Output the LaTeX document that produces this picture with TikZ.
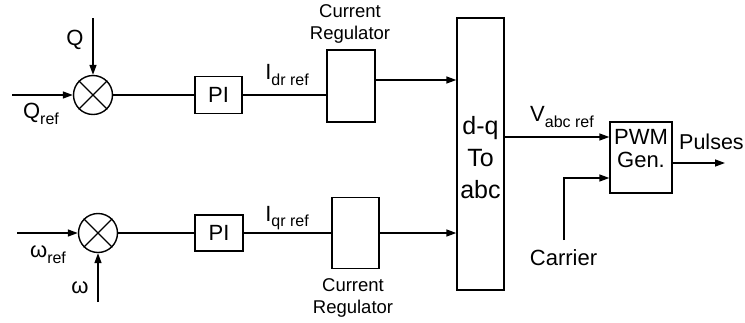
\documentclass[tikz,border=0pt]{standalone}
\usepackage{fontspec}
\setmainfont{Liberation Sans}
\usetikzlibrary{arrows.meta}
\newcommand{\sbs}[1]{\raisebox{-0.5ex}{\fontsize{16}{16}\selectfont #1}}
\tikzset{
  lw/.style={line width=1.4pt},
  arr/.style={lw,-{Triangle[length=10pt,width=7pt]}},
  blk/.style={draw,lw,inner sep=0pt,fill=white},
  sum/.style={draw,lw,circle,minimum size=39pt,inner sep=0pt},
  txt/.style={inner sep=0pt,font=\fontsize{22}{24}\selectfont},
  small/.style={inner sep=0pt,align=center,font=\fontsize{18.5}{22}\selectfont},
}
\begin{document}
\begin{tikzpicture}[x=1pt,y=-1pt]
\useasboundingbox (0,0) rectangle (745,322);
% summing junctions
\node[sum] (s1) at (93,95) {};
\node[sum] (s2) at (98,233) {};
\draw[lw] (s1.45) -- (s1.225) (s1.135) -- (s1.315);
\draw[lw] (s2.45) -- (s2.225) (s2.135) -- (s2.315);
% blocks
\node[blk,minimum width=47pt,minimum height=37pt,txt] (pi1) at (218.5,95) {PI};
\node[blk,minimum width=48pt,minimum height=36pt,txt] (pi2) at (219,233) {PI};
\node[blk,minimum width=48pt,minimum height=72pt] (cr1) at (351,86) {};
\node[blk,minimum width=47pt,minimum height=71pt] (cr2) at (355.5,233) {};
\node[blk,minimum width=47pt,minimum height=272pt] (dq) at (480.5,154) {};
\node[inner sep=0pt,align=center,font=\fontsize{25}{32}\selectfont] (dqt) at (480.5,158) {d-q\\To\\abc};
\node[blk,minimum width=62pt,minimum height=71pt] (pwm) at (641,157.5) {};
\node[txt,align=center,font=\fontsize{22}{23}\selectfont] (pwmt) at ([yshift=9pt]pwm.center) {PWM\\Gen.};
% inputs
\coordinate (qin) at (12,95);
\coordinate (qtop) at (93,18);
\coordinate (win) at (17,233);
\coordinate (wbot) at (98,302);
\draw[arr] (qin) -- (s1.west);
\draw[arr] (qtop) -- (s1.north);
\draw[arr] (win) -- (s2.west);
\draw[arr] (wbot) -- (s2.south);
\node[txt] (ql) at (75,40) {Q};
\node[txt] (qrl) at (41,114) {Q\sbs{ref}};
\node[txt] (wl) at (80,288) {ω};
\node[txt] (wrl) at (48,255) {ω\sbs{ref}};
% forward path
\draw[lw] (s1.east) -- (pi1.west);
\draw[lw] (s2.east) -- (pi2.west);
\draw[lw] (pi1.east) -- (pi1.east -| cr1.west);
\draw[lw] (pi2.east) -- (pi2.east -| cr2.west);
\draw[arr] ([yshift=6pt]cr1.east) -- ([yshift=6pt]cr1.east -| dq.west);
\draw[arr] (cr2.east) -- (cr2.east -| dq.west);
\node[txt] (idr) at (287,75) {I\sbs{dr ref}};
\node[txt] (iqr) at (287,218) {I\sbs{qr ref}};
\node[small] (crl1) at (350,24) {Current\\Regulator};
\node[small] (crl2) at (353,298) {Current\\Regulator};
% output side
\draw[arr] ([yshift=20.5pt]pwm.west -| dq.east) -- ([yshift=20.5pt]pwm.west);
\node[txt] (vl) at (562,117) {V\sbs{abc ref}};
\coordinate (car) at (564,240);
\draw[arr] (car) |- ([yshift=-20.5pt]pwm.west);
\node[txt] (carl) at (563.5,258) {Carrier};
\coordinate (pout) at (725,163);
\draw[arr] (pwm.east |- pout) -- (pout);
\node[txt,anchor=west,font=\fontsize{21.5}{24}\selectfont] (pl) at (679,142) {Pulses};
\end{tikzpicture}
\end{document}
